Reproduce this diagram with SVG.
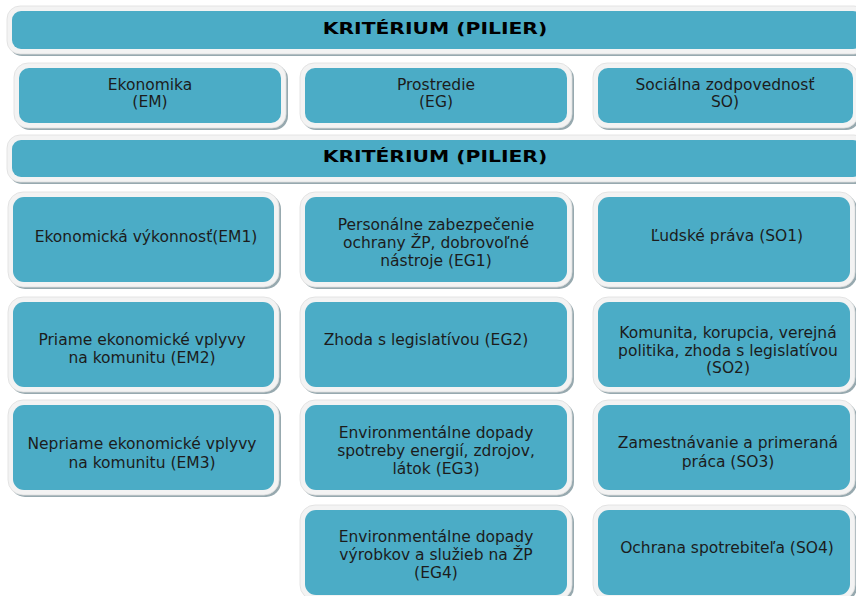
<svg xmlns="http://www.w3.org/2000/svg" width="856" height="596" viewBox="0 0 856 596">
<style>
.sh{fill:#97a9af}
.bd{fill:#f3f3f3;stroke:#dedede;stroke-width:0.8}
.bx{fill:#4BACC6}
text{font-family:"DejaVu Sans",Verdana,sans-serif;font-size:15.5px;fill:#1c1c1c;text-anchor:middle}
.ttl{font-weight:bold;font-size:16px;fill:#000;transform-box:fill-box;transform-origin:center;transform:scaleX(1.27)}
</style>
<rect width="856" height="596" fill="#fff"/>
<g id="banner1">
<rect class="sh" x="9" y="8" width="860" height="48" rx="13"/>
<rect class="bd" x="7" y="6" width="860" height="48" rx="13"/>
<rect class="bx" x="12" y="11" width="850" height="38" rx="9"/>
<text class="ttl" x="435" y="34">KRITÉRIUM (PILIER)</text>
</g>
<g id="EM">
<rect class="sh" x="16" y="65" width="272" height="65" rx="14"/>
<rect class="bd" x="14" y="63" width="272" height="65" rx="14"/>
<rect class="bx" x="19" y="68" width="262" height="55" rx="10"/>
<text x="150" y="89.5">Ekonomika</text><text x="150" y="107">(EM)</text>
</g>
<g id="EG">
<rect class="sh" x="302" y="65" width="272" height="65" rx="14"/>
<rect class="bd" x="300" y="63" width="272" height="65" rx="14"/>
<rect class="bx" x="305" y="68" width="262" height="55" rx="10"/>
<text x="436" y="89.5">Prostredie</text><text x="436" y="107">(EG)</text>
</g>
<g id="SO">
<rect class="sh" x="595" y="65" width="265" height="65" rx="14"/>
<rect class="bd" x="593" y="63" width="265" height="65" rx="14"/>
<rect class="bx" x="598" y="68" width="255" height="55" rx="10"/>
<text x="725" y="89.5">Sociálna zodpovednosť</text><text x="725" y="107">SO)</text>
</g>
<g id="banner2">
<rect class="sh" x="9" y="137" width="860" height="47" rx="13"/>
<rect class="bd" x="7" y="135" width="860" height="47" rx="13"/>
<rect class="bx" x="12" y="140" width="850" height="37" rx="9"/>
<text class="ttl" x="435" y="162">KRITÉRIUM (PILIER)</text>
</g>
<g id="EM1">
<rect class="sh" x="10" y="194" width="271" height="95" rx="15"/>
<rect class="bd" x="8" y="192" width="271" height="95" rx="15"/>
<rect class="bx" x="13" y="197" width="261" height="85" rx="11"/>
<text x="146" y="242">Ekonomická výkonnosť(EM1)</text>
</g>
<g id="EG1">
<rect class="sh" x="302" y="194" width="272" height="95" rx="15"/>
<rect class="bd" x="300" y="192" width="272" height="95" rx="15"/>
<rect class="bx" x="305" y="197" width="262" height="85" rx="11"/>
<text x="436" y="230">Personálne zabezpečenie</text><text x="436" y="248">ochrany ŽP, dobrovoľné</text><text x="436" y="266">nástroje (EG1)</text>
</g>
<g id="SO1">
<rect class="sh" x="595" y="194" width="262" height="95" rx="15"/>
<rect class="bd" x="593" y="192" width="262" height="95" rx="15"/>
<rect class="bx" x="598" y="197" width="252" height="85" rx="11"/>
<text x="727" y="241">Ľudské práva (SO1)</text>
</g>
<g id="EM2">
<rect class="sh" x="10" y="299" width="271" height="95" rx="15"/>
<rect class="bd" x="8" y="297" width="271" height="95" rx="15"/>
<rect class="bx" x="13" y="302" width="261" height="85" rx="11"/>
<text x="142" y="345">Priame ekonomické vplyvy</text><text x="142" y="363">na komunitu (EM2)</text>
</g>
<g id="EG2">
<rect class="sh" x="302" y="299" width="272" height="95" rx="15"/>
<rect class="bd" x="300" y="297" width="272" height="95" rx="15"/>
<rect class="bx" x="305" y="302" width="262" height="85" rx="11"/>
<text x="426" y="345">Zhoda s legislatívou (EG2)</text>
</g>
<g id="SO2">
<rect class="sh" x="595" y="299" width="262" height="95" rx="15"/>
<rect class="bd" x="593" y="297" width="262" height="95" rx="15"/>
<rect class="bx" x="598" y="302" width="252" height="85" rx="11"/>
<text x="728" y="338">Komunita, korupcia, verejná</text><text x="728" y="356">politika, zhoda s legislatívou</text><text x="728" y="373">(SO2)</text>
</g>
<g id="EM3">
<rect class="sh" x="10" y="402" width="271" height="95" rx="15"/>
<rect class="bd" x="8" y="400" width="271" height="95" rx="15"/>
<rect class="bx" x="13" y="405" width="261" height="85" rx="11"/>
<text x="142" y="449">Nepriame ekonomické vplyvy</text><text x="142" y="468">na komunitu (EM3)</text>
</g>
<g id="EG3">
<rect class="sh" x="302" y="402" width="272" height="95" rx="15"/>
<rect class="bd" x="300" y="400" width="272" height="95" rx="15"/>
<rect class="bx" x="305" y="405" width="262" height="85" rx="11"/>
<text x="436" y="438">Environmentálne dopady</text><text x="436" y="456">spotreby energií, zdrojov,</text><text x="436" y="474">látok (EG3)</text>
</g>
<g id="SO3">
<rect class="sh" x="595" y="402" width="262" height="95" rx="15"/>
<rect class="bd" x="593" y="400" width="262" height="95" rx="15"/>
<rect class="bx" x="598" y="405" width="252" height="85" rx="11"/>
<text x="728" y="448">Zamestnávanie a primeraná</text><text x="728" y="467">práca (SO3)</text>
</g>
<g id="EG4">
<rect class="sh" x="302" y="507" width="272" height="95" rx="15"/>
<rect class="bd" x="300" y="505" width="272" height="95" rx="15"/>
<rect class="bx" x="305" y="510" width="262" height="85" rx="11"/>
<text x="436" y="542">Environmentálne dopady</text><text x="436" y="560">výrobkov a služieb na ŽP</text><text x="436" y="578">(EG4)</text>
</g>
<g id="SO4">
<rect class="sh" x="595" y="507" width="262" height="95" rx="15"/>
<rect class="bd" x="593" y="505" width="262" height="95" rx="15"/>
<rect class="bx" x="598" y="510" width="252" height="85" rx="11"/>
<text x="727" y="553">Ochrana spotrebiteľa (SO4)</text>
</g>
<g id="connectors"></g>
</svg>
